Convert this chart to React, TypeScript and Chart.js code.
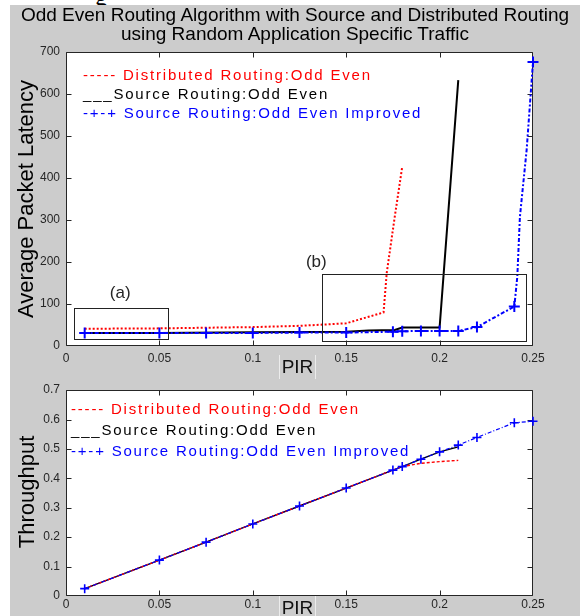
import React, { useEffect, useRef } from "react";
import { Chart, registerables } from "chart.js";
Chart.register(...registerables);

const FONT = "'Liberation Sans', Arial, Helvetica, sans-serif";

// ---------- Data: Average Packet Latency vs PIR ----------
const latDistPir = [0.01, 0.05, 0.1, 0.125, 0.15, 0.17, 0.1717, 0.176, 0.18];
const latDistVal = [41, 42, 45, 48, 54, 80, 174, 308, 427];
const latSrcPir = [0.01, 0.05, 0.1, 0.15, 0.162, 0.176, 0.18, 0.2, 0.21];
const latSrcVal = [31, 31, 33, 34, 37, 38, 44, 44, 633];
const latImpPir = [0.01, 0.05, 0.075, 0.1, 0.125, 0.15, 0.175, 0.18, 0.19, 0.2, 0.21, 0.22, 0.24, 0.2416, 0.243, 0.2466, 0.25];
const latImpVal = [31, 31, 31, 31, 32, 32, 34, 35, 36, 36, 36, 45, 94, 165, 308, 467, 676];
const latImpMarked = [1, 1, 1, 1, 1, 1, 1, 1, 1, 1, 1, 1, 1, 0, 0, 0, 1];

// ---------- Data: Throughput vs PIR ----------
const thrPir = [0.01, 0.05, 0.075, 0.1, 0.125, 0.15, 0.175, 0.18, 0.19, 0.2, 0.21, 0.22, 0.24, 0.25];
const thrDist = [0.025, 0.122, 0.183, 0.245, 0.306, 0.367, 0.428, 0.44, 0.451, 0.457, 0.461];
const thrSrc = [0.025, 0.122, 0.183, 0.245, 0.306, 0.367, 0.428, 0.44, 0.465, 0.49, 0.507];
const thrImp = [0.025, 0.122, 0.183, 0.245, 0.306, 0.367, 0.428, 0.44, 0.465, 0.49, 0.513, 0.539, 0.589, 0.594];

// ---------- Ticks & text ----------
const pirTicks = [0, 0.05, 0.1, 0.15, 0.2, 0.25];
const pirTickLabels = ["0", "0.05", "0.1", "0.15", "0.2", "0.25"];
const latTicks = [0, 100, 200, 300, 400, 500, 600, 700];
const latTickLabels = ["0", "100", "200", "300", "400", "500", "600", "700"];
const thrTicks = [0, 0.1, 0.2, 0.3, 0.4, 0.5, 0.6, 0.7];
const thrTickLabels = ["0", "0.1", "0.2", "0.3", "0.4", "0.5", "0.6", "0.7"];

const titleLines = [
  "Odd Even Routing Algorithm with Source and Distributed Routing",
  "using Random Application Specific Traffic",
];
const legendLabels = [
  "----- Distributed Routing:Odd Even",
  "___Source Routing:Odd Even",
  "-+-+ Source Routing:Odd Even Improved",
];
const legendColors = ["#ff0000", "#000000", "#0000ff"];

// zoom-region annotations (data space)
const boxNames = ["(a)", "(b)"];
const boxPir0 = [0.0043, 0.137];
const boxPir1 = [0.0546, 0.2461];
const boxLat0 = [16, 13];
const boxLat1 = [90, 171];
const boxLabelPir = [0.029, 0.134];
const boxLabelLat = [126, 200];

const pts = (xs: number[], ys: number[]) => ys.map((y, i) => ({ x: xs[i], y }));

const bgPlugin = {
  id: "plotBg",
  beforeDatasetsDraw(chart: any) {
    const { ctx, chartArea: a, scales } = chart;
    ctx.save();
    ctx.fillStyle = "#ffffff";
    ctx.fillRect(a.left, a.top, a.right - a.left, a.bottom - a.top);
    const xs = scales.x, ys = scales.y;
    ctx.strokeStyle = "#262626";
    ctx.lineWidth = 1;
    ctx.beginPath();
    const L = Math.round(a.left) + 0.5, R = Math.round(a.right) - 0.5;
    const T = Math.round(a.top) + 0.5, B = Math.round(a.bottom) - 0.5;
    ctx.rect(L, T, R - L, B - T);
    const tl = 5;
    xs.ticks.forEach((t: any) => {
      const px = Math.min(R, Math.round(xs.getPixelForValue(t.value)) + 0.5);
      ctx.moveTo(px, B); ctx.lineTo(px, B - tl);
      ctx.moveTo(px, T); ctx.lineTo(px, T + tl);
    });
    ys.ticks.forEach((t: any) => {
      const py = Math.max(T, Math.min(B, Math.round(ys.getPixelForValue(t.value)) + 0.5));
      ctx.moveTo(L, py); ctx.lineTo(L + tl, py);
      ctx.moveTo(R, py); ctx.lineTo(R - tl, py);
    });
    ctx.stroke();
    ctx.restore();
  },
};

const boxPlugin = {
  id: "zoomBoxes",
  afterDatasetsDraw(chart: any) {
    if (!chart.options.plugins.zoomBoxes?.show) return;
    const { ctx, scales } = chart;
    const xs = scales.x, ys = scales.y;
    ctx.save();
    ctx.strokeStyle = "#222";
    ctx.lineWidth = 1;
    boxNames.forEach((name, i) => {
      const x0 = Math.round(xs.getPixelForValue(boxPir0[i])) + 0.5;
      const x1 = Math.round(xs.getPixelForValue(boxPir1[i])) + 0.5;
      const y0 = Math.round(ys.getPixelForValue(boxLat0[i])) + 0.5;
      const y1 = Math.round(ys.getPixelForValue(boxLat1[i])) + 0.5;
      ctx.strokeRect(x0, y1, x1 - x0, y0 - y1);
      ctx.fillStyle = "#262626";
      ctx.font = `17px ${FONT}`;
      ctx.textAlign = "center";
      ctx.textBaseline = "middle";
      ctx.fillText(name, xs.getPixelForValue(boxLabelPir[i]), ys.getPixelForValue(boxLabelLat[i]));
    });
    ctx.restore();
  },
};

function axisCfg(ticks: number[], labels: string[], min: number, max: number, pad: number, fit: (s: any) => void) {
  return {
    type: "linear",
    min,
    max,
    afterBuildTicks: (s: any) => {
      s.ticks = ticks.map((v) => ({ value: v }));
    },
    ticks: {
      callback: (_v: any, i: number) => labels[i],
      font: { family: FONT, size: 12 },
      color: "#262626",
      padding: pad,
      autoSkip: false,
      maxRotation: 0,
      minRotation: 0,
    },
    grid: { display: false, drawTicks: false },
    border: { display: false },
    afterFit: fit,
  };
}

function baseOptions(padTop: number, xFit: number, xPad: number, yTicks: number[], yLabels: string[], yMax: number, boxes: boolean) {
  return {
    responsive: false,
    animation: false,
    devicePixelRatio: 1,
    layout: { padding: { left: 0, top: padTop, right: 47, bottom: 0 } },
    plugins: {
      legend: { display: false },
      tooltip: { enabled: false },
      title: { display: false },
      zoomBoxes: { show: boxes },
    },
    scales: {
      x: axisCfg(pirTicks, pirTickLabels, 0, 0.25, xPad, (s: any) => {
        s.height = xFit;
        s.paddingLeft = 0;
        s.paddingRight = 0;
      }),
      y: axisCfg(yTicks, yLabels, 0, yMax, 6, (s: any) => {
        s.width = 56;
        s.paddingTop = 0;
        s.paddingBottom = 0;
      }),
    },
  };
}

function TopPlot() {
  const ref = useRef<HTMLCanvasElement>(null);
  useEffect(() => {
    const chart = new Chart(ref.current as HTMLCanvasElement, {
      type: "line",
      data: {
        datasets: [
          {
            data: pts(latImpPir, latImpVal),
            borderColor: "#0000ff",
            backgroundColor: "#0000ff",
            borderWidth: 2,
            borderDash: [4, 2, 2, 2],
            pointStyle: "cross",
            pointRadius: latImpMarked.map((m) => (m ? 5.5 : 0)),
            pointBorderWidth: 2,
            pointBorderColor: "#0000ff",
            fill: false,
            clip: false,
            order: 0,
          },
          {
            data: pts(latSrcPir, latSrcVal),
            borderColor: "#000000",
            borderWidth: 2,
            pointRadius: 0,
            fill: false,
            clip: false,
            order: 1,
          },
          {
            data: pts(latDistPir, latDistVal),
            borderColor: "#ff0000",
            borderWidth: 2,
            borderDash: [2, 2],
            pointRadius: 0,
            fill: false,
            clip: false,
            order: 2,
          },
        ],
      } as any,
      options: baseOptions(47, 34, 5, latTicks, latTickLabels, 700, true) as any,
      plugins: [bgPlugin, boxPlugin],
    });
    return () => chart.destroy();
  }, []);
  return <canvas ref={ref} width={570} height={375} style={{ position: "absolute", left: 10, top: 5 }} />;
}

function BottomPlot() {
  const ref = useRef<HTMLCanvasElement>(null);
  useEffect(() => {
    const chart = new Chart(ref.current as HTMLCanvasElement, {
      type: "line",
      data: {
        datasets: [
          {
            data: pts(thrPir, thrImp),
            borderColor: "#0000ff",
            borderWidth: 1.2,
            borderDash: [4, 2, 1, 2],
            pointStyle: "cross",
            pointRadius: 4.5,
            pointBorderWidth: 1.6,
            pointBorderColor: "#0000ff",
            fill: false,
            clip: false,
            order: 0,
          },
          {
            data: pts(thrPir, thrDist),
            borderColor: "#ff0000",
            borderWidth: 1.4,
            borderDash: [3, 2],
            pointRadius: 0,
            fill: false,
            clip: false,
            order: 1,
          },
          {
            data: pts(thrPir, thrSrc),
            borderColor: "#000000",
            borderWidth: 1.4,
            pointRadius: 0,
            fill: false,
            clip: false,
            order: 2,
          },
        ],
      } as any,
      options: baseOptions(2, 20, 1, thrTicks, thrTickLabels, 0.7, false) as any,
      plugins: [bgPlugin],
    });
    return () => chart.destroy();
  }, []);
  return <canvas ref={ref} width={570} height={232} style={{ position: "absolute", left: 10, top: 384 }} />;
}

function Legend({ left, top, gap }: { left: number; top: number; gap: number }) {
  return (
    <>
      {legendLabels.map((t, i) => (
        <div
          key={i}
          style={{
            position: "absolute",
            left,
            top: top + i * gap,
            font: `15px ${FONT}`,
            lineHeight: "19px",
            letterSpacing: "1.8px",
            color: legendColors[i],
            whiteSpace: "pre",
          }}
        >
          {t}
        </div>
      ))}
    </>
  );
}

function PirLabel({ top }: { top: number }) {
  return (
    <>
      <div style={{ position: "absolute", left: 279, top: top - 2, width: 35, height: 24, borderLeft: "1px solid #ececec", borderRight: "1px solid #ececec" }} />
      <div style={{ position: "absolute", left: 279, width: 37, top, textAlign: "center", font: `19px ${FONT}`, lineHeight: "19px", color: "#111" }}>PIR</div>
    </>
  );
}

export default function App() {
  return (
    <div style={{ position: "absolute", left: 0, top: 0, width: 580, height: 616, overflow: "hidden", background: "#ffffff" }}>
      <div style={{ position: "absolute", left: 95, top: -16, font: "24px 'Liberation Serif', 'Times New Roman', serif", color: "#000" }}>g</div>
      <div style={{ position: "absolute", left: 10, top: 5, right: 0, bottom: 0, background: "#cccccc" }} />
      <TopPlot />
      <BottomPlot />
      <div style={{ position: "absolute", left: 10, width: 570, top: 5, textAlign: "center", font: `19px ${FONT}`, lineHeight: "19px", color: "#000" }}>
        {titleLines.map((l, i) => (
          <div key={i}>{l}</div>
        ))}
      </div>
      <div
        style={{
          position: "absolute",
          left: 26,
          top: 199,
          transform: "translate(-50%, -50%) rotate(-90deg)",
          font: `22px ${FONT}`,
          whiteSpace: "nowrap",
          color: "#000",
        }}
      >
        Average Packet Latency
      </div>
      <div
        style={{
          position: "absolute",
          left: 27,
          top: 492,
          transform: "translate(-50%, -50%) rotate(-90deg)",
          font: `22px ${FONT}`,
          whiteSpace: "nowrap",
          color: "#000",
        }}
      >
        Throughput
      </div>
      <PirLabel top={357} />
      <PirLabel top={598} />
      <Legend left={83} top={65} gap={19} />
      <Legend left={71} top={399} gap={21} />
    </div>
  );
}
